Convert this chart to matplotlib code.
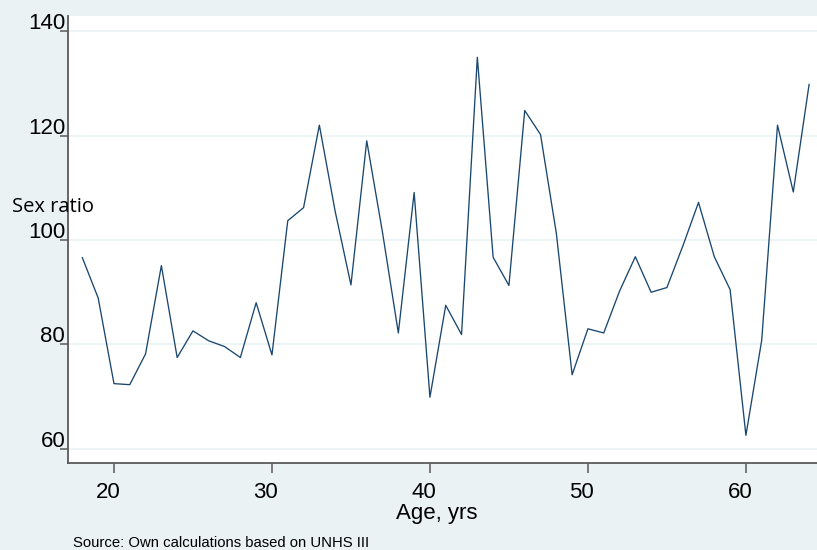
import numpy as np
import matplotlib
matplotlib.use("Agg")
import matplotlib.pyplot as plt
import matplotlib.transforms as mtransforms

# Sex ratio by single year of age
ages = list(range(18, 65))
sex_ratio = [96.6, 88.9, 72.5, 72.3, 78.2, 95.1, 77.5, 82.6, 80.7, 79.6,
             77.5, 88.0, 78.0, 103.7, 106.2, 122.0, 105.5, 91.4, 119.0, 101.4,
             82.2, 109.1, 69.9, 87.5, 81.9, 135.0, 96.7, 91.3, 124.8, 120.2,
             101.3, 74.2, 83.0, 82.2, 90.2, 96.8, 90.0, 90.9, 98.8, 107.2,
             96.8, 90.5, 62.6, 80.8, 122.0, 109.2, 129.8]

yticks = [60, 80, 100, 120, 140]
xticks = [20, 30, 40, 50, 60]

bg = "#eaf2f3"
navy = "#1a476f"
axis_gray = "#5a5a5a"

fig = plt.figure(figsize=(8.17, 5.5), dpi=100, facecolor=bg)
ax = fig.add_axes([68 / 817, 1 - 463 / 550, 749 / 817, 447 / 550])
ax.set_facecolor("white")

ax.plot(ages, sex_ratio, color=navy, linewidth=0.95)

ax.set_xlim(17.09, 64.5)
ax.set_ylim(57.3, 142.9)

# grid
ax.set_yticks(yticks)
ax.set_xticks(xticks)
ax.yaxis.grid(True, color=bg, linewidth=1.2)
ax.xaxis.grid(False)
ax.set_axisbelow(True)

for side in ["top", "right"]:
    ax.spines[side].set_visible(False)
for side in ["left", "bottom"]:
    ax.spines[side].set_color(axis_gray)
    ax.spines[side].set_linewidth(1.3)

tick_font = {"family": "Liberation Sans", "size": 16}
ax.tick_params(axis="y", length=5.8, width=1.1, color=axis_gray, pad=-3.8)
ax.tick_params(axis="x", length=7.2, width=1.1, color=axis_gray, pad=6.5)
ax.set_yticklabels([str(v) for v in yticks], fontdict=tick_font)
ax.set_xticklabels([str(v) for v in xticks], fontdict=tick_font)

for lab in ax.get_yticklabels():
    lab.set_verticalalignment("baseline")
    lab.set_transform(lab.get_transform() +
                      mtransforms.ScaledTranslation(0, 2 / 100, fig.dpi_scale_trans))
for lab in ax.get_xticklabels():
    lab.set_transform(lab.get_transform() +
                      mtransforms.ScaledTranslation(-6 / 100, 0, fig.dpi_scale_trans))

fig.text(12 / 817, 1 - 212 / 550, "Sex ratio", family="Open Sans", fontsize=14.5,
         va="baseline", ha="left")
fig.text(437 / 817, 1 - 519 / 550, "Age, yrs", family="Liberation Sans", fontsize=16,
         va="baseline", ha="center")
fig.text(73 / 817, 1 - 547 / 550, "Source: Own calculations based on UNHS III",
         family="Liberation Sans", fontsize=10.7, va="baseline", ha="left")

fig.savefig("out.png", dpi=100, facecolor=bg)
